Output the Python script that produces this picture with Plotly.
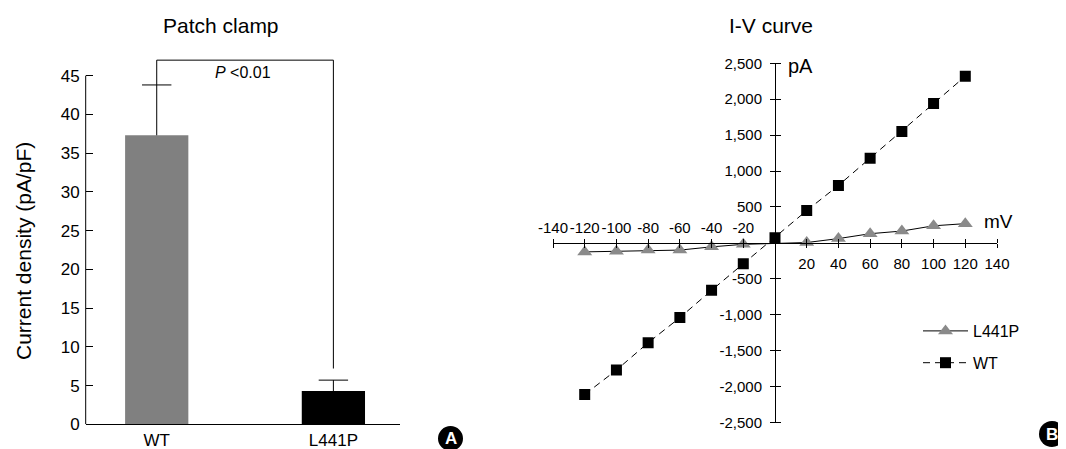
import plotly.graph_objects as go

W, H = 1066, 449
OX, OY = 8, 8  # default page body margin in the browser

# ---------------- Panel A data ----------------
groups = ["WT", "L441P"]
density = [37.3, 4.3]
density_err = [6.5, 1.4]
bracket_x = ["WT", "WT", "L441P", "L441P"]
bracket_y = [43.8, 47.0, 47.0, 7.2]
yA_ticks = [0, 5, 10, 15, 20, 25, 30, 35, 40, 45]
p_label = "<i>P</i> &lt;0.01"

# ---------------- Panel B data ----------------
wt_voltage = [-120, -100, -80, -60, -40, -20, 0, 20, 40, 60, 80, 100, 120]
wt_current = [-2110, -1770, -1390, -1040, -660, -290, 70, 450, 800, 1180, 1550, 1940, 2320]
mut_voltage = [-120, -100, -80, -60, -40, -20, 20, 40, 60, 80, 100, 120]
mut_current = [-125, -115, -100, -100, -55, -20, 5, 60, 128, 165, 238, 268]
xB_ticks = [-140, -120, -100, -80, -60, -40, -20, 20, 40, 60, 80, 100, 120, 140]
yB_ticks = [2500, 2000, 1500, 1000, 500, -500, -1000, -1500, -2000, -2500]
yB_labels = ["2,500", "2,000", "1,500", "1,000", "500",
             "-500", "-1,000", "-1,500", "-2,000", "-2,500"]

FONT = "Liberation Sans, Arial, Helvetica, sans-serif"


def px(x):
    return (x - OX) / W


def py(y):
    return 1 - (y - OY) / H


fig = go.Figure()

# ---- Panel A ----
fig.add_trace(go.Bar(
    x=groups, y=density, width=0.358,
    marker=dict(color=["#808080", "#000000"], line=dict(width=0)),
    error_y=dict(type="data", symmetric=False, array=density_err,
                 arrayminus=[0, 0], color="black", thickness=1, width=0),
    showlegend=False, xaxis="x", yaxis="y"))
fig.add_trace(go.Scatter(
    x=groups, y=[d + e for d, e in zip(density, density_err)], mode="markers",
    marker=dict(symbol="line-ew", size=21, line=dict(color="black", width=1)),
    showlegend=False, xaxis="x", yaxis="y", hoverinfo="skip"))
fig.add_trace(go.Scatter(
    x=bracket_x, y=bracket_y, mode="lines",
    line=dict(color="black", width=1),
    showlegend=False, xaxis="x", yaxis="y", hoverinfo="skip"))

# ---- Panel B ----
fig.add_trace(go.Scatter(
    x=mut_voltage, y=mut_current, name="L441P", mode="lines+markers",
    line=dict(color="black", width=1),
    marker=dict(symbol="triangle-up", size=13, color="#8a8a8a", line=dict(width=0)),
    xaxis="x2", yaxis="y2", legendgroup="g1"))
fig.add_trace(go.Scatter(
    x=wt_voltage, y=wt_current, name="WT", mode="lines+markers",
    line=dict(color="black", width=1, dash="7px,5px"),
    marker=dict(symbol="square", size=11, color="black", line=dict(width=0)),
    xaxis="x3", yaxis="y3", legendgroup="g2"))

xA_dom = [px(85.7), px(400)]
yA_dom = [py(424.3), py(52.4)]
xB_dom = [px(553), px(997)]
yB_dom = [py(422.5), py(63.3)]
xB_pos = (yB_dom[0] + yB_dom[1]) / 2
yB_pos = (xB_dom[0] + xB_dom[1]) / 2

tickfontA = dict(family=FONT, size=17, color="black")
tickfontB = dict(family=FONT, size=15, color="black")

fig.update_layout(
    width=W, height=H,
    margin=dict(l=0, r=0, t=0, b=0, autoexpand=False),
    paper_bgcolor="white", plot_bgcolor="white",
    font=dict(family=FONT, color="black"),
    xaxis=dict(domain=xA_dom, range=[-0.402, 1.377], anchor="y",
               showline=True, linecolor="black", linewidth=1, ticks="",
               showgrid=False, zeroline=False, tickfont=tickfontA,
               fixedrange=True, automargin=False, ticklabelstandoff=0),
    yaxis=dict(domain=yA_dom, range=[0, 48], anchor="x",
               showline=False, ticks="inside", ticklen=7, tickcolor="black",
               tickwidth=1, tickvals=yA_ticks, showgrid=False, zeroline=False,
               tickfont=tickfontA, fixedrange=True, automargin=False,
               ticklabelstandoff=5),
    xaxis2=dict(domain=xB_dom, range=[-140, 140], anchor="free", position=xB_pos,
                side="bottom", showline=True, linecolor="black", linewidth=1,
                ticks="outside", ticklen=4, tickcolor="black", tickangle=0,
                tickvals=xB_ticks,
                ticktext=[str(v) if v > 0 else "" for v in xB_ticks],
                showgrid=False, zeroline=False, tickfont=tickfontB,
                automargin=False, ticklabelstandoff=3),
    xaxis3=dict(domain=xB_dom, range=[-140, 140], anchor="free", position=xB_pos,
                overlaying="x2", side="top", showline=False,
                ticks="outside", ticklen=4, tickcolor="black", tickangle=0,
                tickvals=xB_ticks,
                ticktext=[str(v) if v < 0 else "" for v in xB_ticks],
                showgrid=False, zeroline=False, tickfont=tickfontB,
                automargin=False),
    yaxis2=dict(domain=yB_dom, range=[-2500, 2500], anchor="free", position=yB_pos,
                side="left", showline=True, linecolor="black", linewidth=1,
                ticks="outside", ticklen=5, tickcolor="black",
                tickvals=yB_ticks, ticktext=yB_labels,
                showgrid=False, zeroline=False, tickfont=tickfontB,
                automargin=False, ticklabelstandoff=5),
    yaxis3=dict(domain=yB_dom, range=[-2500, 2500], anchor="free", position=yB_pos,
                overlaying="y2", side="right", showline=False,
                ticks="outside", ticklen=5, tickcolor="black",
                tickvals=yB_ticks, showticklabels=False,
                showgrid=False, zeroline=False, automargin=False),
    legend=dict(x=px(918), y=py(314), xanchor="left", yanchor="top",
                font=dict(family=FONT, size=16, color="black"),
                bgcolor="rgba(0,0,0,0)", tracegroupgap=8, traceorder="grouped",
                itemwidth=45),
    showlegend=True,
)

# A: y axis line from 0 to 45 only
fig.add_shape(type="line", xref="paper", yref="y", x0=xA_dom[0], x1=xA_dom[0],
              y0=0, y1=yA_ticks[-1], line=dict(color="black", width=1))

# circle badges
for cx, cy, r, letter in [(450.5, 438.5, 12.5, "A"), (1052, 434, 13, "B")]:
    fig.add_shape(type="circle", xref="paper", yref="paper",
                  x0=px(cx - r), x1=px(cx + r), y0=py(cy + r), y1=py(cy - r),
                  fillcolor="black", line=dict(width=0))
    fig.add_annotation(x=px(cx), y=py(cy), xref="paper", yref="paper",
                       text="<b>%s</b>" % letter, showarrow=False,
                       font=dict(family=FONT, size=17, color="white"),
                       xanchor="center", yanchor="middle")

annots = [
    dict(text="Patch clamp", x=px(221), y=py(26), size=21),
    dict(text="I-V curve", x=px(771), y=py(26), size=21),
    dict(text=p_label, x=px(243), y=py(73), size=16),
    dict(text="pA", x=px(800), y=py(66), size=20),
    dict(text="mV", x=px(998), y=py(221), size=19),
]
for a in annots:
    fig.add_annotation(x=a["x"], y=a["y"], xref="paper", yref="paper",
                       text=a["text"], showarrow=False,
                       font=dict(family=FONT, size=a["size"], color="black"),
                       xanchor="center", yanchor="middle")

fig.add_annotation(x=px(23), y=py(251), xref="paper", yref="paper",
                   text="Current density (pA/pF)", showarrow=False, textangle=-90,
                   font=dict(family=FONT, size=21, color="black"),
                   xanchor="center", yanchor="middle")

fig.write_html("out.html")
